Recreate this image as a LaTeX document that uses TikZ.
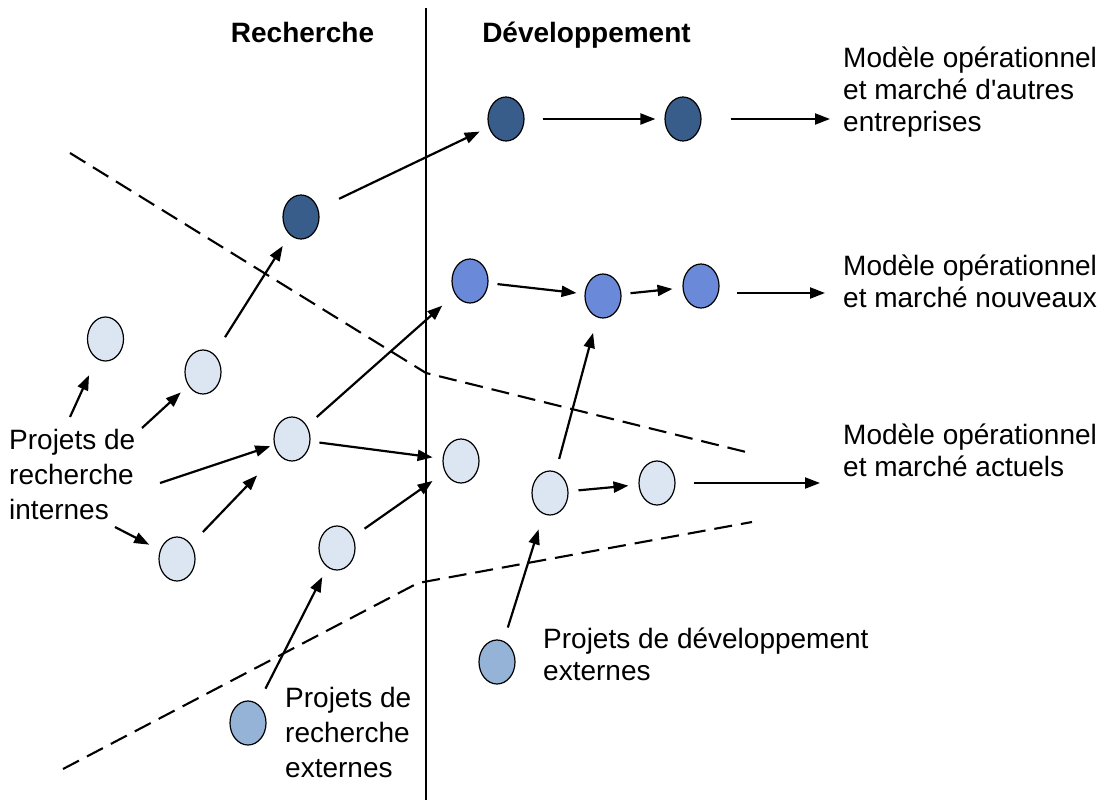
\documentclass[tikz,border=0pt]{standalone}
\usepackage{fontspec}
\setmainfont{Liberation Sans}
\usetikzlibrary{arrows.meta,shapes.geometric}
\definecolor{projdark}{HTML}{385D8A}
\definecolor{projmid}{HTML}{6A8AD9}
\definecolor{projlight}{HTML}{DCE6F2}
\definecolor{projext}{HTML}{95B3D7}
\begin{document}
\begin{tikzpicture}[x=1pt,y=-1pt,
  proj/.style={ellipse,draw=black,line width=1.2pt,minimum width=36pt,minimum height=44pt,inner sep=0pt},
  flow/.style={-{Triangle[length=15pt,width=11pt]},line width=2.2pt},
  boundary/.style={dash pattern=on 18pt off 9pt,line width=2.1pt},
  txt/.style={font=\fontsize{28}{32}\selectfont,align=left,inner sep=0pt,anchor=base west},
  txtwide/.style={font=\fontsize{28}{35}\selectfont,align=left,inner sep=0pt,anchor=base west},
  head/.style={font=\fontsize{28}{32}\selectfont\bfseries,inner sep=0pt,anchor=base},
 ]
\useasboundingbox (0,0) rectangle (1107,800);

% phase separator and headings
\draw[line width=2pt] (426,8) -- (426,800);
\node[head] (hres) at (302.5,43) {Recherche};
\node[head] (hdev) at (586.5,43) {Développement};

% boundaries of the current business
\draw[boundary] (70,153) -- (426,373) -- (746,452);
\draw[boundary] (63,769) -- (418,583) -- (752,522);

% projects
\node[proj,fill=projdark] (D1) at (301,217) {};
\node[proj,fill=projdark] (D2) at (506,119) {};
\node[proj,fill=projdark] (D3) at (683,119) {};
\node[proj,fill=projmid] (M1) at (470,281) {};
\node[proj,fill=projmid] (M2) at (603,296) {};
\node[proj,fill=projmid] (M3) at (701,286) {};
\node[proj,fill=projlight] (L1) at (105.5,339) {};
\node[proj,fill=projlight] (L2) at (203,372) {};
\node[proj,fill=projlight] (L3) at (292,439) {};
\node[proj,fill=projlight] (L4) at (177,559) {};
\node[proj,fill=projlight] (L5) at (337,548) {};
\node[proj,fill=projlight] (L6) at (461,461) {};
\node[proj,fill=projlight] (L7) at (550,493) {};
\node[proj,fill=projlight] (L8) at (657,483) {};
\node[proj,fill=projext] (E1) at (248,723) {};
\node[proj,fill=projext] (E2) at (497,662) {};

% captions
\node[txt] (T1) at (843,131) {Modèle opérationnel\\et marché d\textquotesingle autres\\entreprises};
\node[txt] (T2) at (843,307) {Modèle opérationnel\\et marché nouveaux};
\node[txt] (T3) at (843,476) {Modèle opérationnel\\et marché actuels};
\node[txtwide] (T4) at (9,519) {Projets de\\recherche\\internes};
\node[txtwide] (T6) at (285,777) {Projets de\\recherche\\externes};
\node[txt] (T5) at (543,680) {Projets de développement\\externes};

% arrow starts next to the internal research caption
\coordinate (c1) at (70,417);
\coordinate (c2) at (142,428);
\coordinate (c3) at (160,483);
\coordinate (c4) at (115,527);
\coordinate (m3out) at ([yshift=-7pt]M3.center);

% project flows
\draw[flow,shorten <=23pt,shorten >=10pt] (D1) -- (D2);
\draw[flow,shorten <=18pt,shorten >=9pt] (D2) -- (D3);
\draw[flow,shorten <=29pt,shorten >=13pt] (D3) -- (D3 -| T1.west);
\draw[flow,shorten <=9pt,shorten >=8pt] (M1) -- (M2);
\draw[flow,shorten <=9pt,shorten >=10pt] (M2) -- (M3);
\draw[flow,shorten <=36pt,shorten >=18pt] (m3out) -- (m3out -| T2.west);
\draw[flow,shorten <=13pt,shorten >=16pt] (L7) -- (M2);
\draw[flow,shorten <=10pt,shorten >=10pt] (L7) -- (L8);
\draw[flow,shorten <=18pt,shorten >=23pt] (L8) -- (L8 -| T3.west);
\draw[flow,shorten <=14pt,shorten >=16pt] (E2) -- (L7);
\draw[flow,shorten <=17pt,shorten >=11pt] (E1) -- (L5);
\draw[flow,shorten <=14pt,shorten >=15pt] (L5) -- (L6);
\draw[flow,shorten <=9pt,shorten >=10pt] (L3) -- (L6);
\draw[flow,shorten <=13pt,shorten >=17pt] (L3) -- (M1);
\draw[flow,shorten <=17pt,shorten >=30pt] (L4) -- (L3);
\draw[flow,shorten <=20pt,shorten >=13pt] (L2) -- (D1);
\draw[flow,shorten >=18pt] (c1) -- (L1);
\draw[flow,shorten >=10pt] (c2) -- (L2);
\draw[flow,shorten >=4pt] (c3) -- (L3);
\draw[flow,shorten >=12pt] (c4) -- (L4);
\end{tikzpicture}
\end{document}
